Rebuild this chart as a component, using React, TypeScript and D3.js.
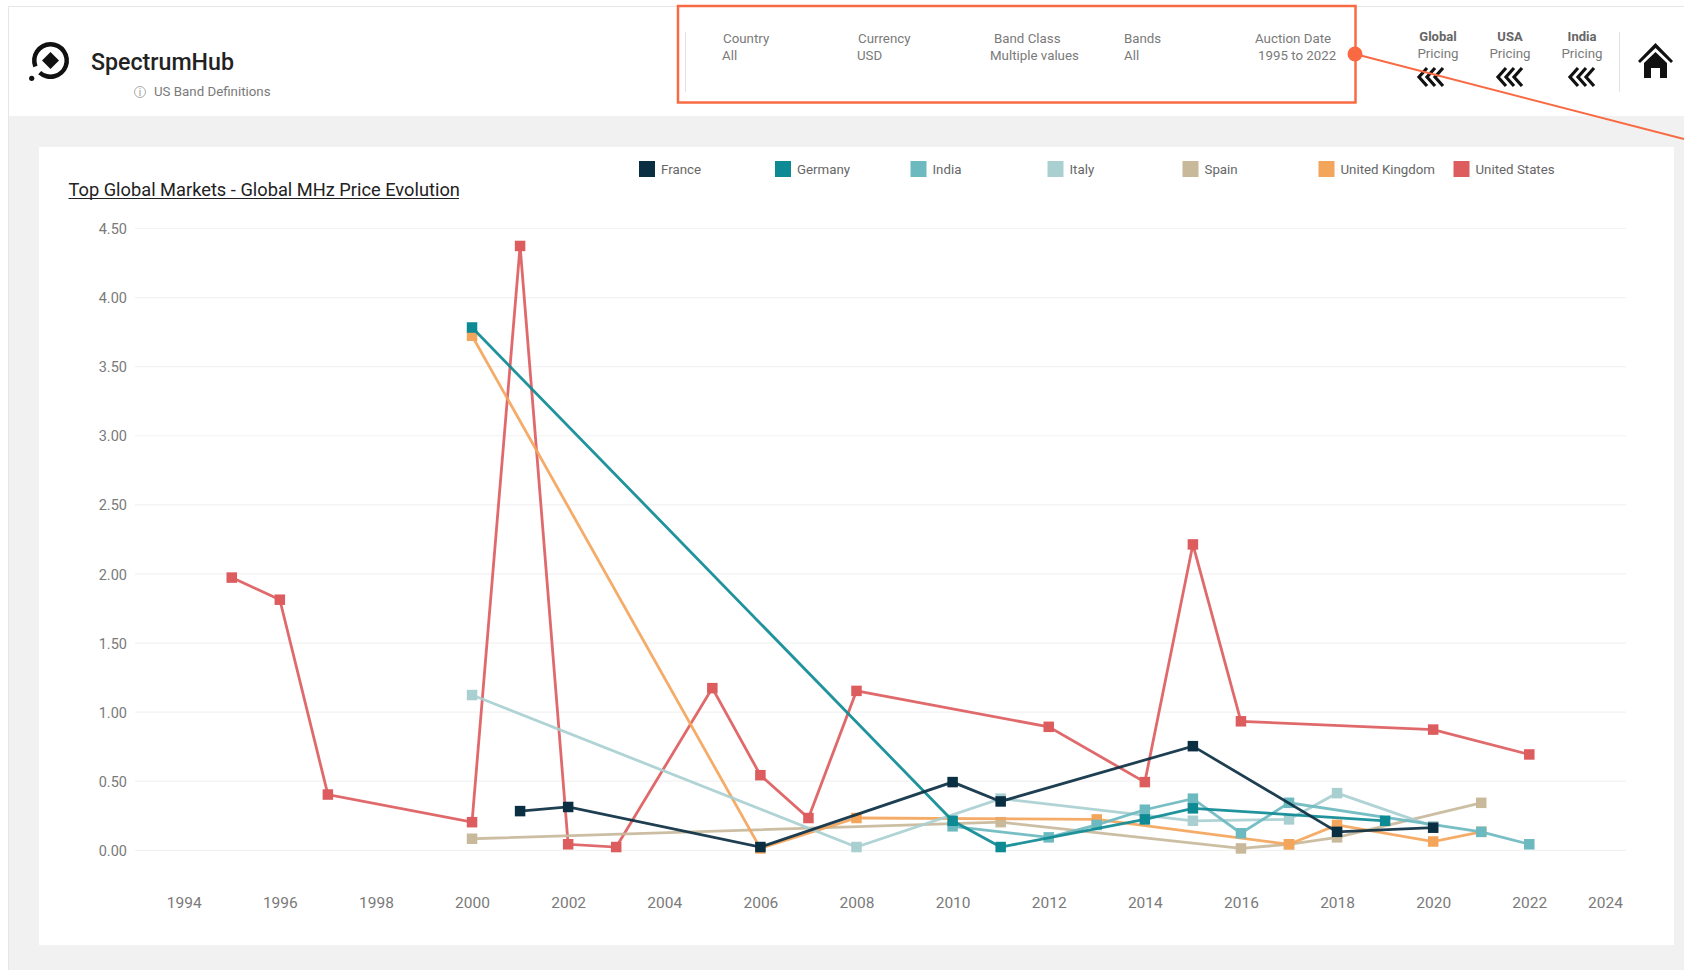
import * as d3 from "d3";
import { useRef, useEffect } from "react";

const WIDTH = 1684;
const HEIGHT = 970;
const FONT = "Roboto, sans-serif";
const GREY = "#7a7a7a";

const countries = ["France", "Germany", "India", "Italy", "Spain", "United Kingdom", "United States"];
const countryColors = ["#0b2f42", "#0e8a94", "#6cbac0", "#a9cfd1", "#c8b99a", "#f4a55c", "#dd5c5e"];
const legendX = [639, 775, 910.5, 1047.5, 1182.5, 1318.5, 1453.5];
// back to front: US, Spain, UK, Italy, India, Germany, France
const drawOrder = [6, 4, 5, 3, 2, 1, 0];

const franceYears = [2001, 2002, 2006, 2010, 2011, 2015, 2018, 2020];
const franceValues = [0.28, 0.31, 0.02, 0.49, 0.35, 0.75, 0.13, 0.16];
const germanyYears = [2000, 2010, 2011, 2014, 2015, 2019];
const germanyValues = [3.78, 0.21, 0.02, 0.22, 0.3, 0.21];
const indiaYears = [2010, 2012, 2013, 2014, 2015, 2016, 2017, 2021, 2022];
const indiaValues = [0.17, 0.09, 0.18, 0.29, 0.37, 0.12, 0.34, 0.13, 0.04];
const italyYears = [2000, 2008, 2011, 2015, 2017, 2018, 2020];
const italyValues = [1.12, 0.02, 0.37, 0.21, 0.22, 0.41, 0.17];
const spainYears = [2000, 2011, 2016, 2017, 2018, 2021];
const spainValues = [0.08, 0.2, 0.01, 0.04, 0.09, 0.34];
const ukYears = [2000, 2006, 2008, 2013, 2017, 2018, 2020, 2021];
const ukValues = [3.72, 0.01, 0.23, 0.22, 0.04, 0.18, 0.06, 0.13];
const usYears = [1995, 1996, 1997, 2000, 2001, 2002, 2003, 2005, 2006, 2007, 2008, 2012, 2014, 2015, 2016, 2020, 2022];
const usValues = [1.97, 1.81, 0.4, 0.2, 4.37, 0.04, 0.02, 1.17, 0.54, 0.23, 1.15, 0.89, 0.49, 2.21, 0.93, 0.87, 0.69];

const allYears = [franceYears, germanyYears, indiaYears, italyYears, spainYears, ukYears, usYears];
const allValues = [franceValues, germanyValues, indiaValues, italyValues, spainValues, ukValues, usValues];

const yTicks = [0, 0.5, 1, 1.5, 2, 2.5, 3, 3.5, 4, 4.5];
const xTicks = d3.range(1994, 2025, 2);

const filterLabels = ["Country", "Currency", "Band Class", "Bands", "Auction Date"];
const filterValues = ["All", "USD", "Multiple values", "All", "1995 to 2022"];
const filterLabelX = [723, 858, 994, 1124, 1255];
const filterValueX = [722, 857, 990, 1124, 1258];

const pricingLabels = ["Global", "USA", "India"];
const pricingX = [1438, 1510, 1582];
const chevronX = [1431, 1510, 1582];

const App = () => {
  const svgRef = useRef<SVGSVGElement>(null);

  useEffect(() => {
    const svg = d3.select(svgRef.current);
    svg.selectAll("*").remove();

    const addText = (txt, x, y, size, opts: any = {}) =>
      svg
        .append("text")
        .attr("x", x)
        .attr("y", y)
        .attr("font-family", FONT)
        .attr("font-size", size)
        .attr("font-weight", opts.weight || 400)
        .attr("fill", opts.fill || GREY)
        .attr("text-anchor", opts.anchor || "start")
        .text(txt);

    // page background and header
    svg.append("rect").attr("width", WIDTH).attr("height", HEIGHT).attr("fill", "#ffffff");
    svg.append("rect").attr("x", 8).attr("y", 116).attr("width", WIDTH - 8).attr("height", HEIGHT - 116).attr("fill", "#f1f1f1");
    svg.append("path").attr("d", `M8.5 ${HEIGHT}V6.5H${WIDTH}`).attr("fill", "none").attr("stroke", "#e6e6e6").attr("stroke-width", 1);
    svg.append("rect").attr("x", 39).attr("y", 147).attr("width", 1635).attr("height", 798).attr("fill", "#ffffff");

    // logo
    const logo = svg.append("g").attr("transform", "translate(50.5,60.5)");
    const arc = d3.arc();
    logo
      .append("path")
      .attr("d", arc({ innerRadius: 14, outerRadius: 18.5, startAngle: -1.95, endAngle: 3.87 } as any))
      .attr("fill", "#111");
    logo.append("path").attr("d", "M0 -8.5L8.5 0L0 8.5L-8.5 0Z").attr("fill", "#111");
    logo.append("circle").attr("cx", -18.8).attr("cy", 17.8).attr("r", 2.6).attr("fill", "#111");

    addText("SpectrumHub", 91, 70, 23.2, { weight: 500, fill: "#222" });
    addText("US Band Definitions", 154, 96, 13.3);
    svg.append("circle").attr("cx", 140).attr("cy", 92).attr("r", 5.5).attr("fill", "none").attr("stroke", "#aaa");
    addText("i", 140, 96, 10, { anchor: "middle", fill: "#999" });

    // filters
    svg.append("line").attr("x1", 685.5).attr("x2", 685.5).attr("y1", 32).attr("y2", 92).attr("stroke", "#e2e2e2");
    filterLabels.forEach((l, i) => {
      addText(l, filterLabelX[i], 43, 13.3);
      addText(filterValues[i], filterValueX[i], 60, 13.3);
    });

    // pricing links
    pricingLabels.forEach((l, i) => {
      addText(l, pricingX[i], 41, 13, { anchor: "middle", weight: 700, fill: "#666" });
      addText("Pricing", pricingX[i], 58, 13.3, { anchor: "middle" });
      [-12, -4, 4].forEach((dx) => {
        svg
          .append("path")
          .attr("d", `M${chevronX[i] + dx + 8} 68L${chevronX[i] + dx} 77L${chevronX[i] + dx + 8} 86`)
          .attr("fill", "none")
          .attr("stroke", "#111")
          .attr("stroke-width", 3.2);
      });
    });
    svg.append("line").attr("x1", 1619.5).attr("x2", 1619.5).attr("y1", 32).attr("y2", 92).attr("stroke", "#e2e2e2");

    // home icon
    svg
      .append("path")
      .attr("d", "M1655.5 43L1673 61L1671 63L1655.5 48L1640 63L1638 61Z M1655.5 52L1667 63V78H1660V68H1651V78H1644V63Z")
      .attr("fill", "#111");

    // title and legend
    addText("Top Global Markets - Global MHz Price Evolution", 68.5, 196, 18.25, { fill: "#222" });
    svg.append("line").attr("x1", 68.5).attr("x2", 459).attr("y1", 198.5).attr("y2", 198.5).attr("stroke", "#222");
    countries.forEach((c, i) => {
      svg.append("rect").attr("x", legendX[i]).attr("y", 161).attr("width", 16).attr("height", 16).attr("fill", countryColors[i]);
      addText(c, legendX[i] + 22, 174, 13.3, { fill: "#666" });
    });

    // scales and axes
    const xScale = d3.scaleLinear().domain([1994, 2024]).range([183.7, 1625.4]);
    const yScale = d3.scaleLinear().domain([0, 4.5]).range([849.8, 228]);

    const yAxisGroup = svg
      .append("g")
      .attr("transform", "translate(135,0)")
      .call(d3.axisLeft(yScale).tickValues(yTicks).tickSize(-1491).tickPadding(8).tickFormat(d3.format(".2f")));
    yAxisGroup.select(".domain").remove();
    yAxisGroup.selectAll("line").attr("stroke", "#f2f2f2").attr("stroke-width", 1.2);
    yAxisGroup.selectAll("text").attr("fill", GREY).attr("font-family", FONT).attr("font-size", 14.5).attr("y", 1);

    const xAxisGroup = svg
      .append("g")
      .attr("transform", "translate(0,892)")
      .call(d3.axisBottom(xScale).tickValues(xTicks).tickSize(0).tickPadding(5).tickFormat(d3.format("d")));
    xAxisGroup.select(".domain").remove();
    xAxisGroup.selectAll("text").attr("fill", GREY).attr("font-family", FONT).attr("font-size", 15.5);
    // last label is pulled back inside the plot
    xAxisGroup
      .selectAll("text")
      .filter((d) => d === 2024)
      .attr("text-anchor", "end")
      .attr("dx", -3);

    // series
    const line = d3
      .line<number>()
      .x((d) => d[0])
      .y((d) => d[1]);

    drawOrder.forEach((i) => {
      const pts = allYears[i].map((yr, j) => [xScale(yr), yScale(allValues[i][j])]);
      const g = svg.append("g");
      g.append("path")
        .attr("d", line(pts as any))
        .attr("fill", "none")
        .attr("stroke", countryColors[i])
        .attr("stroke-opacity", 0.92)
        .attr("stroke-width", 2.8);
      g.selectAll("rect")
        .data(pts)
        .enter()
        .append("rect")
        .attr("x", (d) => d[0] - 5.25)
        .attr("y", (d) => d[1] - 5.25)
        .attr("width", 10.5)
        .attr("height", 10.5)
        .attr("fill", countryColors[i]);
    });

    // annotation box on top of everything
    const orange = "#f96a43";
    svg.append("rect").attr("x", 678).attr("y", 6).attr("width", 677.5).attr("height", 96.5).attr("fill", "none").attr("stroke", orange).attr("stroke-width", 2.5);
    svg.append("line").attr("x1", 1355).attr("y1", 54).attr("x2", WIDTH).attr("y2", 139).attr("stroke", orange).attr("stroke-width", 2);
    svg.append("circle").attr("cx", 1355).attr("cy", 54).attr("r", 7.5).attr("fill", orange);
  }, []);

  return <svg ref={svgRef} width={WIDTH} height={HEIGHT} style={{ position: "absolute", left: 0, top: 0 }} />;
};

export default App;
